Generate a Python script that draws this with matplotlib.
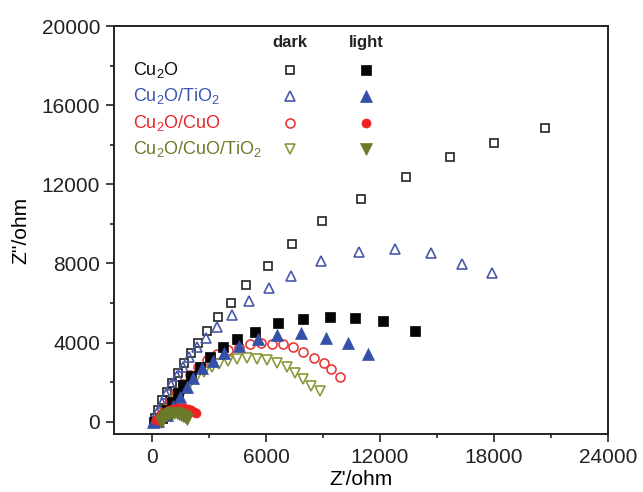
import numpy as np
import matplotlib
matplotlib.use("Agg")
from matplotlib import pyplot as plt
from matplotlib.ticker import MultipleLocator

plt.rcParams['font.family'] = ['Liberation Sans', 'DejaVu Sans']
plt.rcParams['mathtext.default'] = 'regular'

# Nyquist data (Z', Z''), ohm
cu2o_dark_x = [158, 331, 541, 772, 1035, 1350, 1697, 2049, 2401, 2879, 3451, 4150,
               4975, 6109, 7391, 8967, 10979, 13380, 15690, 18018, 20680]
cu2o_dark_y = [187, 592, 1097, 1517, 1972, 2447, 2952, 3458, 4004, 4601, 5283, 6017,
               6927, 7887, 8969, 10163, 11245, 12387, 13368, 14076, 14834]

cu2o_light_x = [80, 510, 772, 1035, 1350, 1644, 2049, 2521, 3047, 3714, 4465, 5426,
                6634, 7932, 9387, 10700, 12187, 13868]
cu2o_light_y = [0, 187, 592, 1011, 1436, 1856, 2311, 2781, 3256, 3767, 4166, 4550,
                4975, 5193, 5309, 5258, 5091, 4586]

tio2_dark_x = [105, 278, 510, 735, 982, 1297, 1613, 1959, 2390, 2826, 3441, 4202,
               5127, 6162, 7302, 8914, 10890, 12802, 14693, 16300, 17897]
tio2_dark_y = [35, 425, 930, 1400, 1856, 2311, 2782, 3287, 3792, 4242, 4788, 5395,
               6087, 6745, 7382, 8115, 8565, 8747, 8514, 7973, 7533]

tio2_light_x = [40, 300, 772, 1119, 1471, 1823, 2170, 2611, 3189, 3798, 4596, 5584,
                6592, 7864, 9140, 10312, 11362]
tio2_light_y = [0, 20, 339, 794, 1264, 1739, 2194, 2700, 3069, 3458, 3827, 4191,
                4409, 4470, 4232, 3964, 3423]

cuo_dark_x = [315, 630, 946, 1261, 1628, 1996, 2416, 2873, 3430, 4008, 4570, 5148,
              5726, 6320, 6897, 7422, 7948, 8510, 9035, 9403, 9912]
cuo_dark_y = [137, 541, 996, 1451, 1906, 2361, 2766, 3120, 3408, 3625, 3792, 3913,
              3964, 3954, 3913, 3792, 3549, 3205, 2953, 2680, 2275]

cuo_light_x = [200, 350, 500, 700, 900, 1100, 1300, 1500, 1700, 1900, 2050, 2200, 2320]
cuo_light_y = [100, 250, 380, 500, 590, 640, 670, 680, 670, 630, 580, 510, 440]

all_dark_x = [525, 893, 1208, 1576, 1944, 2311, 2732, 3136, 3535, 3977, 4481, 4990,
              5516, 6041, 6566, 7092, 7512, 7932, 8389, 8825]
all_dark_y = [187, 592, 1047, 1451, 1856, 2209, 2513, 2766, 2943, 3069, 3155, 3206,
              3195, 3120, 2993, 2766, 2462, 2159, 1830, 1567]

all_light_x = [500, 550, 620, 700, 800, 920, 1050, 1180, 1300, 1420, 1540, 1650, 1750, 1830]
all_light_y = [0, 100, 200, 280, 350, 400, 430, 440, 430, 400, 350, 290, 220, 150]

labels = ['Cu$_2$O', 'Cu$_2$O/TiO$_2$', 'Cu$_2$O/CuO', 'Cu$_2$O/CuO/TiO$_2$']
text_colors = ['#111111', '#3a56b0', '#e8262c', '#6b7a2c']
dark_colors = ['#222222', '#4a58a8', '#e83a3a', '#8a9a3a']
light_colors = ['#050505', '#3550a8', '#ee2222', '#6a7a28']
markers = ['s', '^', 'o', 'v']
dark_sizes = [6, 7.5, 6.5, 7.5]
light_sizes = [6.5, 8, 6.5, 8]

fig = plt.figure(figsize=(6.43, 4.92), dpi=100)
ax = fig.add_axes([0.1773, 0.1179, 0.768, 0.829])

dark_sets = [(cu2o_dark_x, cu2o_dark_y), (tio2_dark_x, tio2_dark_y),
             (cuo_dark_x, cuo_dark_y), (all_dark_x, all_dark_y)]
light_sets = [(cu2o_light_x, cu2o_light_y), (tio2_light_x, tio2_light_y),
              (cuo_light_x, cuo_light_y), (all_light_x, all_light_y)]

for i in range(4):
    x, y = dark_sets[i]
    ax.plot(x, y, linestyle='none', marker=markers[i], ms=dark_sizes[i],
            mfc='none', mec=dark_colors[i], mew=1.2)
for i in range(4):
    x, y = light_sets[i]
    ax.plot(x, y, linestyle='none', marker=markers[i], ms=light_sizes[i],
            mfc=light_colors[i], mec=light_colors[i], mew=0.5)

ax.set_xlim(-2000, 24000)
ax.set_ylim(-620, 20000)
ax.xaxis.set_major_locator(MultipleLocator(6000))
ax.xaxis.set_minor_locator(MultipleLocator(3000))
ax.yaxis.set_major_locator(MultipleLocator(4000))
ax.yaxis.set_minor_locator(MultipleLocator(2000))
ax.tick_params(which='both', direction='out', top=False, right=False, width=1.2,
               labelsize=15, colors='#222222')
ax.tick_params(which='major', length=6, pad=4)
ax.tick_params(which='minor', length=3)
for s in ax.spines.values():
    s.set_linewidth(1.4)
    s.set_color('#222222')

ax.set_xlabel("Z'/ohm", fontsize=15, labelpad=2)
ax.set_ylabel("Z''/ohm", fontsize=15, labelpad=8)

# hand-made legend with dark / light columns
ax.text(0.356, 0.961, 'dark', transform=ax.transAxes, ha='center', va='center',
        fontsize=12, fontweight='bold', color='#222222')
ax.text(0.510, 0.961, 'light', transform=ax.transAxes, ha='center', va='center',
        fontsize=12, fontweight='bold', color='#222222')
rows_y = [0.892, 0.828, 0.762, 0.699]
for i in range(4):
    ax.text(0.038, rows_y[i], labels[i], transform=ax.transAxes, ha='left',
            va='center', fontsize=13, color=text_colors[i])
    ax.plot([0.356], [rows_y[i]], transform=ax.transAxes, linestyle='none',
            marker=markers[i], ms=dark_sizes[i], mfc='none',
            mec=dark_colors[i], mew=1.2)
    ax.plot([0.510], [rows_y[i]], transform=ax.transAxes, linestyle='none',
            marker=markers[i], ms=light_sizes[i], mfc=light_colors[i],
            mec=light_colors[i], mew=0.5)

plt.savefig('out.png', dpi=100)
